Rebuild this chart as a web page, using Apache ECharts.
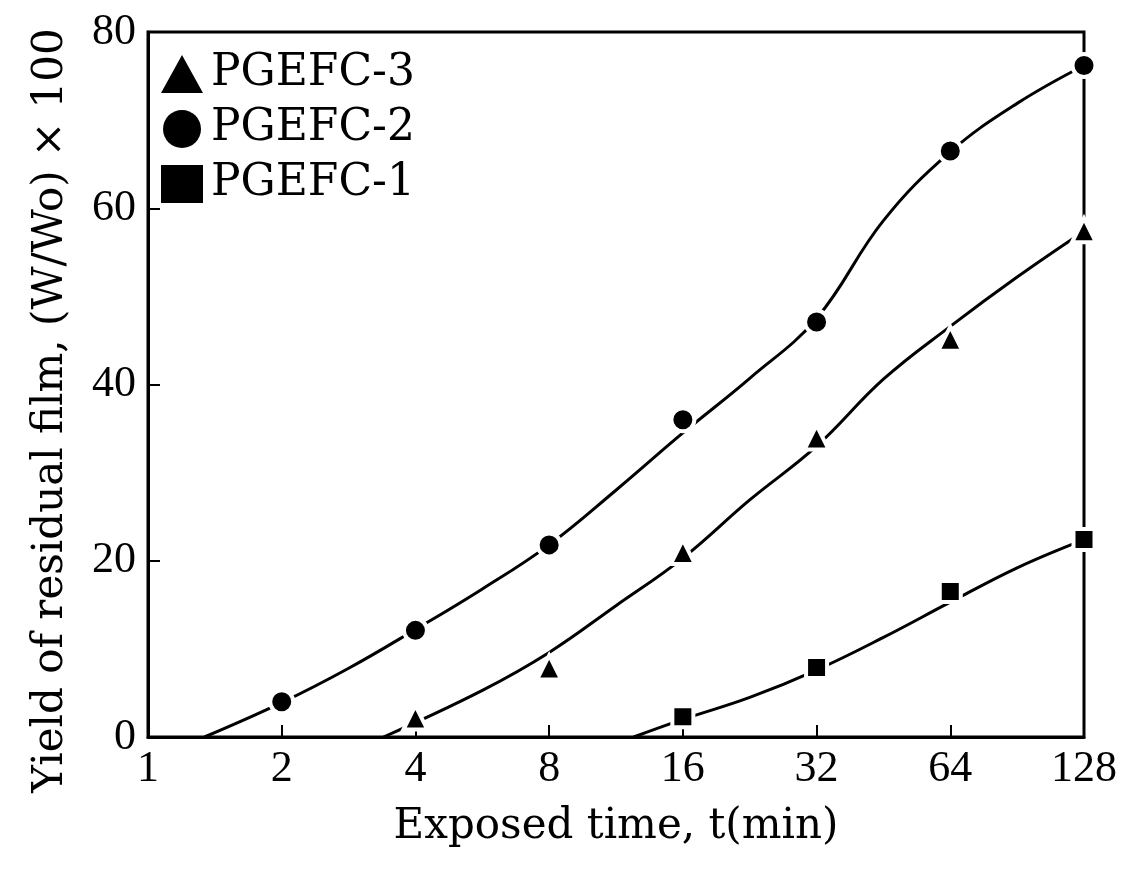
<!DOCTYPE html>
<html><head><meta charset="utf-8">
<script src="https://cdn.jsdelivr.net/npm/echarts@6/dist/echarts.min.js"></script>
<style>html,body{margin:0;padding:0;background:#fff}#c{width:1124px;height:875px}</style>
</head><body><div id="c"></div>
<script>
// exposed times (min)
var times = [2, 4, 8, 16, 32, 64, 128];
// measured points
var pgefc2 = [[2, 4.0], [4, 12.1], [8, 21.8], [16, 36.0], [32, 47.1], [64, 66.5], [128, 76.2]];
var pgefc3 = [[4, 2.2], [8, 7.9], [16, 21.0], [32, 34.0], [64, 45.2], [128, 57.5]];
var pgefc1 = [[16, 2.3], [32, 7.9], [64, 16.5], [128, 22.4]];
// fitted curves
var curve2 = [[1.34, 0], [2, 3.9], [2.83, 7.8], [4, 12.2], [5.66, 16.8], [8, 21.8], [11.31, 28.0], [16, 34.5], [22.63, 40.7], [32, 47.5], [45.25, 58.6], [64, 66.4], [90.51, 71.9], [128, 76.2]];
var curve3 = [[3.39, 0], [5.66, 5.3], [8, 9.6], [11.31, 14.9], [16, 20.3], [22.63, 26.9], [32, 33.0], [45.25, 40.6], [64, 46.6], [90.51, 52.2], [128, 57.4]];
var curve1 = [[12.4, 0], [16, 2.0], [22.63, 4.5], [32, 7.6], [45.25, 11.3], [64, 15.3], [90.51, 19.2], [128, 22.4]];
var names = ['PGEFC-3', 'PGEFC-2', 'PGEFC-1'];

var tickFont = 'Liberation Serif';
var textFont = 'DejaVu Serif';
var chart = echarts.init(document.getElementById('c'));
function curve(name, data) {
  return {name: name, type: 'line', data: data, smooth: 0.4, showSymbol: false, symbol: 'none',
    lineStyle: {color: '#000', width: 3}, z: 2, silent: true};
}
function pts(name, data, sym, size) {
  return {name: name, type: 'scatter', data: data, symbol: sym, symbolSize: size,
    itemStyle: {color: '#000', opacity: 1, borderColor: '#fff', borderWidth: 4}, z: 5};
}
chart.setOption({
  animation: false,
  backgroundColor: '#fff',
  grid: {left: 148, right: 40, top: 32, bottom: 138, show: true, borderColor: '#000', borderWidth: 3, backgroundColor: 'transparent'},
  legend: {
    data: [{name: names[0], icon: 'triangle'}, {name: names[1], icon: 'circle'}, {name: names[2], icon: 'rect'}],
    orient: 'vertical', left: 156, top: 47, itemGap: 11, itemWidth: 42, itemHeight: 38,
    textStyle: {fontFamily: textFont, fontSize: 44, color: '#000', padding: [0, 0, 0, 3]},
    itemStyle: {color: '#000', borderWidth: 0, opacity: 1}
  },
  xAxis: {
    type: 'log', logBase: 2, min: 1, max: 128,
    name: 'Exposed time, t(min)', nameLocation: 'middle', nameGap: 69,
    nameTextStyle: {fontFamily: textFont, fontSize: 42, color: '#000'},
    axisLine: {lineStyle: {color: '#000', width: 3}},
    axisTick: {inside: true, length: 12, lineStyle: {color: '#000', width: 2}},
    axisLabel: {fontFamily: tickFont, fontSize: 44, color: '#000', margin: 10},
    splitLine: {show: false}
  },
  yAxis: {
    type: 'value', min: 0, max: 80, interval: 20,
    name: 'Yield of residual film, (W/Wo) × 100', nameLocation: 'middle', nameGap: 76, nameRotate: 90,
    nameTextStyle: {fontFamily: textFont, fontSize: 42, color: '#000', padding: [0, 52, 0, 0]},
    axisLine: {lineStyle: {color: '#000', width: 3}},
    axisTick: {inside: true, length: 12, lineStyle: {color: '#000', width: 2}},
    axisLabel: {fontFamily: tickFont, fontSize: 44, color: '#000', margin: 12},
    splitLine: {show: false}
  },
  series: [
    curve('c2', curve2), curve('c3', curve3), curve('c1', curve1),
    pts(names[1], pgefc2, 'circle', 23),
    pts(names[0], pgefc3, 'triangle', 24),
    pts(names[2], pgefc1, 'rect', 21)
  ]
});
</script></body></html>
